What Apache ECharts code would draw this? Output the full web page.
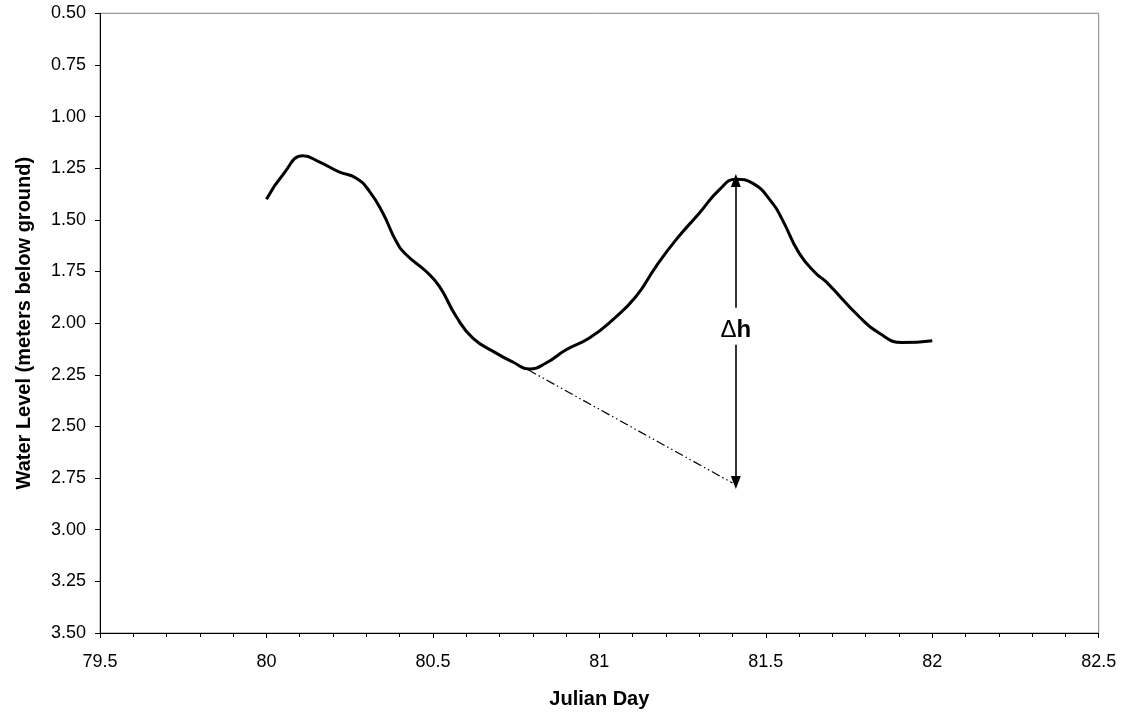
<!DOCTYPE html>
<html>
<head>
<meta charset="utf-8">
<script src="https://cdn.jsdelivr.net/npm/echarts@6/dist/echarts.min.js"></script>
<style>
  html, body { margin: 0; padding: 0; background: #fff; }
  #chart { width: 1126px; height: 715px; }
</style>
</head>
<body>
<div id="chart"></div>
<script>
// Julian day of each reading
var dayValues = [80.00, 80.05, 80.11, 80.16, 80.216, 80.27, 80.31, 80.35, 80.39, 80.42,
  80.48, 80.52, 80.57, 80.62, 80.69, 80.74, 80.79, 80.84, 80.90, 80.97,
  81.04, 81.11, 81.17, 81.23, 81.30, 81.36, 81.41, 81.46, 81.52, 81.55,
  81.60, 81.65, 81.68, 81.78, 81.84, 81.91, 82.00];
// Water level, meters below ground
var levelValues = [1.40, 1.28, 1.19, 1.22, 1.266, 1.298, 1.363, 1.468, 1.605, 1.669,
  1.75, 1.823, 1.968, 2.072, 2.145, 2.188, 2.222, 2.193, 2.129, 2.072,
  1.984, 1.871, 1.726, 1.597, 1.468, 1.355, 1.303, 1.322, 1.419, 1.50,
  1.661, 1.758, 1.798, 1.968, 2.048, 2.094, 2.085];

// Extrapolated recession: from the trough to below the next peak
var recessionDays = [80.786, 81.40];
var recessionLevels = [2.226, 2.774];

// Delta-h arrow: day, peak tip, upper gap, lower gap, lower tip
var deltaDay = 81.41;
var deltaLevels = [1.31, 1.925, 2.104, 2.772];
var deltaLabelLevel = 2.035;

var levelSeries = dayValues.map(function (d, i) { return [d, levelValues[i]]; });
var recessionSeries = recessionDays.map(function (d, i) { return [d, recessionLevels[i]]; });

var chart = echarts.init(document.getElementById('chart'), null, { renderer: 'canvas' });

chart.setOption({
  animation: false,
  backgroundColor: '#ffffff',
  grid: {
    left: 100, top: 13.3, right: 27.3, bottom: 82,
    show: true, borderColor: '#808080', borderWidth: 1, backgroundColor: 'transparent'
  },
  xAxis: {
    type: 'value',
    min: 79.5, max: 82.5, interval: 0.5,
    name: 'Julian Day',
    nameLocation: 'middle',
    nameGap: 56,
    nameTextStyle: { fontFamily: 'Liberation Sans', fontWeight: 'bold', fontSize: 20, color: '#000' },
    axisLine: { show: true, lineStyle: { color: '#000', width: 1 } },
    axisTick: { show: true, inside: false, length: 5, lineStyle: { color: '#000' } },
    minorTick: { show: true, splitNumber: 5, length: 4, lineStyle: { color: '#000' } },
    axisLabel: { fontFamily: 'Liberation Sans', fontSize: 18, color: '#000', margin: 20 },
    splitLine: { show: false }
  },
  yAxis: {
    type: 'value',
    inverse: true,
    min: 0.5, max: 3.5, interval: 0.25,
    name: 'Water Level (meters below ground)',
    nameLocation: 'middle',
    nameGap: 66,
    nameTextStyle: { fontFamily: 'Liberation Sans', fontWeight: 'bold', fontSize: 20, color: '#000' },
    axisLine: { show: true, lineStyle: { color: '#000', width: 1 } },
    axisTick: { show: true, inside: false, length: 5, lineStyle: { color: '#000' } },
    axisLabel: {
      fontFamily: 'Liberation Sans', fontSize: 18, color: '#000', margin: 14,
      formatter: function (v) { return v.toFixed(2); }
    },
    splitLine: { show: false }
  },
  series: [
    {
      name: 'Water level',
      type: 'line',
      data: levelSeries,
      smooth: 0.5,
      showSymbol: false,
      symbol: 'none',
      lineStyle: { color: '#000', width: 3 },
      silent: true
    },
    {
      name: 'Recession',
      type: 'line',
      data: recessionSeries,
      showSymbol: false,
      symbol: 'none',
      lineStyle: { color: '#000', width: 1.2, type: [9, 3, 1.5, 3, 1.5, 3] },
      silent: true,
      markLine: {
        silent: true,
        symbolSize: [10, 13],
        label: { show: false },
        lineStyle: { color: '#000', width: 1.6, type: 'solid', opacity: 1 },
        itemStyle: { color: '#000' },
        emphasis: { disabled: true },
        data: [
          [
            { coord: [deltaDay, deltaLevels[1]], symbol: 'none' },
            { coord: [deltaDay, deltaLevels[0]], symbol: 'triangle' }
          ],
          [
            { coord: [deltaDay, deltaLevels[2]], symbol: 'none' },
            { coord: [deltaDay, deltaLevels[3]], symbol: 'triangle' }
          ]
        ]
      }
    },
    {
      name: 'Delta h',
      type: 'scatter',
      data: [[deltaDay, deltaLabelLevel]],
      symbolSize: 0,
      silent: true,
      itemStyle: { opacity: 1, color: '#000' },
      label: {
        show: true,
        position: 'inside',
        color: '#000',
        textBorderWidth: 0,
        formatter: '{d|\u0394}{h|h}',
        rich: {
          d: { fontFamily: 'Liberation Sans', fontSize: 24, color: '#000', textBorderWidth: 0 },
          h: { fontFamily: 'Liberation Sans', fontSize: 24, fontWeight: 'bold', color: '#000', textBorderWidth: 0 }
        }
      }
    }
  ]
});
</script>
</body>
</html>
